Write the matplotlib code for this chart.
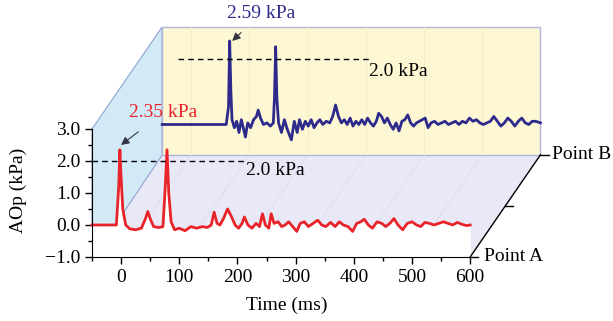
import matplotlib.pyplot as plt
from matplotlib.patches import Polygon

plt.rcParams["font.family"] = ["Liberation Serif", "DejaVu Serif"]

# Point A (front) trace
red_t = [-50, -8, -4, -2, 0, 3, 8, 15, 25, 35, 42, 46, 50, 56, 65, 72, 76, 79, 82, 86,
         92, 100, 110, 120, 130, 140, 148, 155, 160, 165, 170, 176, 183, 190, 196, 202,
         208, 212, 218, 225, 232, 238, 243, 248, 254, 258, 263, 270, 276, 282, 288, 295,
         302, 308, 315, 322, 330, 338, 345, 352, 360, 368, 375, 382, 390, 398, 405, 412,
         418, 425, 432, 440, 448, 455, 462, 469, 476, 484, 492, 500, 508, 515, 522, 530,
         538, 546, 554, 562, 570, 578, 586, 594, 600]
red_v = [0.0, 0.0, 1.2, 2.35, 1.5, 0.5, 0.0, -0.12, -0.15, -0.1, 0.2, 0.42, 0.2, -0.05,
         -0.08, -0.05, 1.2, 2.35, 1.0, 0.1, -0.15, -0.1, -0.18, -0.05, -0.1, -0.05, -0.08,
         0.0, 0.4, 0.05, 0.0, 0.2, 0.5, 0.25, 0.0, -0.1, 0.05, 0.25, 0.0, -0.1, 0.05, -0.05,
         0.35, 0.0, -0.1, 0.35, 0.05, 0.1, -0.05, 0.0, 0.1, -0.05, -0.2, 0.05, 0.1, -0.05,
         0.05, 0.15, 0.0, -0.05, 0.08, -0.05, 0.1, 0.0, -0.05, -0.2, 0.05, 0.1, 0.18, 0.0,
         -0.1, 0.1, 0.05, -0.05, 0.05, 0.2, 0.0, -0.15, 0.05, 0.1, 0.0, -0.05, 0.08, 0.05,
         0.0, 0.05, 0.1, 0.05, 0.0, 0.08, 0.02, -0.02, 0.0]

# Point B (back) trace
blue_t = [-50, 60, 64, 66, 68, 70, 74, 78, 82, 86, 90, 93, 97, 102, 107, 112, 115, 119,
          124, 130, 136, 141, 143, 145, 147, 150, 155, 160, 165, 172, 177, 182, 186, 191,
          196, 201, 206, 211, 216, 221, 226, 232, 238, 243, 248, 253, 258, 263, 268, 273,
          278, 283, 288, 293, 298, 303, 308, 313, 318, 322, 327, 332, 337, 342, 347, 352,
          357, 362, 367, 372, 377, 382, 387, 392, 397, 402, 407, 412, 418, 424, 430, 436,
          442, 448, 454, 460, 466, 472, 478, 484, 490, 496, 502, 508, 514, 520, 526, 532,
          538, 544, 550, 556, 562, 568, 574, 580, 586, 592, 600]
blue_v = [-0.05, -0.05, 0.5, 2.56, 1.0, 0.1, -0.15, 0.05, -0.3, 0.1, -0.2, -0.44, 0.0,
          -0.15, 0.1, 0.2, 0.4, 0.15, -0.05, 0.0, -0.1, 0.0, 0.8, 2.38, 0.8, 0.0, -0.3,
          0.1, -0.2, -0.53, 0.05, -0.3, 0.1, -0.2, 0.05, -0.1, 0.1, -0.15, 0.0, 0.1, -0.05,
          0.05, 0.0, 0.2, 0.56, 0.2, 0.0, 0.1, -0.05, 0.15, -0.1, 0.05, -0.05, 0.1, -0.05,
          0.15, 0.0, -0.1, 0.05, 0.3, 0.2, 0.0, 0.15, -0.05, -0.2, 0.0, -0.25, 0.05, 0.1,
          0.25, 0.0, -0.1, 0.0, 0.05, 0.1, 0.15, -0.15, 0.0, 0.05, -0.05, 0.0, 0.05, -0.05,
          0.0, 0.05, -0.05, 0.05, 0.0, 0.15, 0.05, 0.1, 0.0, -0.05, 0.0, 0.05, 0.2, 0.05,
          -0.1, 0.0, 0.15, 0.05, -0.1, 0.05, 0.15, 0.0, -0.05, 0.05, 0.05, 0.0]

x_ticks = [0, 100, 200, 300, 400, 500, 600]
y_ticks = [-1, 0, 1, 2, 3]
y_labels = ["\u22121.0", "0.0", "1.0", "2.0", "3.0"]
threshold = 2.0

# oblique offset of the Point B plane, in front-axis units
DX, DY = 120.7, 3.19
XMIN, XMAX, YMIN, YMAX = -50, 600, -1, 3
FS = 14


def back(x, y):
    return x + DX, y + DY


fig = plt.figure(figsize=(6.13, 3.21), dpi=100)
ax = fig.add_axes([0.150, 0.1994, 0.617, 0.3988])
ax.set_xlim(XMIN, XMAX)
ax.set_ylim(YMIN, YMAX)
ax.patch.set_alpha(0)

# floor
floor = [(XMIN, YMIN), (XMAX, YMIN), back(XMAX, YMIN), back(XMIN, YMIN)]
ax.add_patch(Polygon(floor, closed=True, fc="#e9e8f6", ec="none", clip_on=False, zorder=0))
for t in x_ticks:
    ax.plot([t, back(t, YMIN)[0]], [YMIN, back(t, YMIN)[1]], color="#dcdcee", lw=0.6,
            clip_on=False, zorder=0.5)

# left wall
wall = [(XMIN, YMAX), back(XMIN, YMAX), back(XMIN, YMIN), (-10, 0), (XMIN, 0)]
ax.add_patch(Polygon(wall, closed=True, fc="#d2eaf6", ec="#8fa3d4", lw=0.8,
                     clip_on=False, zorder=1))

# back panel
panel = [back(XMIN, YMIN), back(XMAX, YMIN), back(XMAX, YMAX), back(XMIN, YMAX)]
ax.add_patch(Polygon(panel, closed=True, fc="#fdf8d3", ec="#b0b5dc", lw=1.0,
                     clip_on=False, zorder=2))
for t in x_ticks[:-1]:
    bx0, by0 = back(t, YMIN)
    bx1, by1 = back(t, YMAX)
    ax.plot([bx0, bx1], [by0, by1], color="#f0eac6", lw=0.6, clip_on=False, zorder=2.1)

bt = [back(t, v)[0] for t, v in zip(blue_t, blue_v)]
bv = [back(t, v)[1] for t, v in zip(blue_t, blue_v)]
ax.plot(bt, bv, color="#2e2a8c", lw=2.0, clip_on=False, zorder=3)

bx0, by0 = back(-22, threshold)
bx1, by1 = back(309, threshold)
ax.plot([bx0, bx1], [by0, by1], color="black", lw=1.0, ls=(0, (4, 3)), clip_on=False, zorder=3)
ax.text(*back(306, 1.62), "2.0 kPa", fontsize=FS, ha="left", va="center", zorder=4)

# front trace with white below
ax.fill_between(red_t, YMIN, red_v, color="white", lw=0, zorder=4)
ax.plot(red_t, red_v, color="#e8242a", lw=2.0, clip_on=False, zorder=5)
ax.plot([XMIN, 215], [threshold, threshold], color="black", lw=1.0, ls=(0, (4, 3)),
        clip_on=False, zorder=5)
ax.text(214, 1.7, "2.0 kPa", fontsize=FS, ha="left", va="center", zorder=6)

# peak annotations
ax.annotate("2.35 kPa", xy=(0, 2.5), xytext=(72, 3.5), fontsize=FS, color="#e8242a",
            ha="center", va="center", annotation_clip=False, zorder=7,
            arrowprops=dict(arrowstyle="-|>", color="#333344", lw=0.8,
                            shrinkA=9, shrinkB=0, mutation_scale=12))
ax.annotate("2.59 kPa", xy=(191, 5.75), xytext=(241, 6.6), fontsize=FS, color="#2e2a8c",
            ha="center", va="center", annotation_clip=False, zorder=7,
            arrowprops=dict(arrowstyle="-|>", color="#333344", lw=0.8,
                            shrinkA=8, shrinkB=0, mutation_scale=12))

# depth axis
ex, ey = back(XMAX, YMIN)
ax.plot([XMAX, ex], [YMIN, ey], color="black", lw=1.0, clip_on=False, zorder=6)
for f in [0, 0.5, 1]:
    px, py = XMAX + f * DX, YMIN + f * DY
    ax.plot([px, px + 14], [py, py], color="black", lw=1.0, clip_on=False, zorder=6)
ax.text(XMAX + 24, YMIN, "Point A", fontsize=FS, ha="left", va="center")
ax.text(ex + 20, ey, "Point B", fontsize=FS, ha="left", va="center")

# front axes
ax.spines["top"].set_visible(False)
ax.spines["right"].set_visible(False)
ax.spines["left"].set_zorder(8)
ax.spines["bottom"].set_zorder(8)
ax.set_xticks(x_ticks)
ax.set_xticks([50 * i - 50 for i in range(14)], minor=True)
ax.set_yticks(y_ticks)
ax.set_yticklabels(y_labels)
ax.set_yticks([-0.5, 0.5, 1.5, 2.5], minor=True)
ax.tick_params(which="major", direction="out", length=5, width=1.0, labelsize=FS)
ax.tick_params(which="minor", direction="out", length=3, width=1.0)
ax.set_xlabel("Time (ms)", fontsize=FS)
ax.set_ylabel("AOp (kPa)", fontsize=FS)
ax.xaxis.set_label_coords(0.516, -0.31)
ax.yaxis.set_label_coords(-0.172, 0.52)

fig.savefig("out.png", dpi=100)
